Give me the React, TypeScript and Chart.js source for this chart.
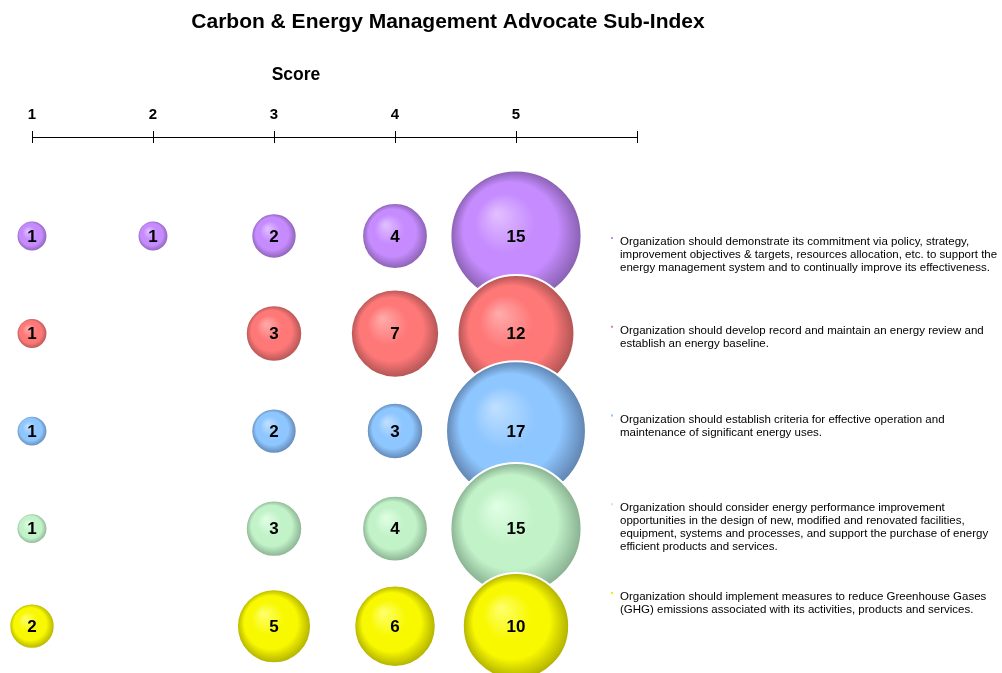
import React, { useEffect, useRef } from 'react';
import { Chart, registerables } from 'chart.js';

Chart.register(...registerables);

const TITLE = 'Carbon & Energy Management Advocate Sub-Index';
const AXIS_TITLE = 'Score';
const scoreTicks = [1, 2, 3, 4, 5];
const AXIS_MAX = 6;

// counts per score 1..5 (null = no respondents at that score)
const purpleCounts = [1, 1, 2, 4, 15];
const redCounts = [1, null, 3, 7, 12];
const blueCounts = [1, null, 2, 3, 17];
const greenCounts = [1, null, 3, 4, 15];
const yellowCounts = [2, null, 5, 6, 10];

const rowCounts = [purpleCounts, redCounts, blueCounts, greenCounts, yellowCounts];

const highlightColors = ['#e2c0ff', '#ffacac', '#c0e0ff', '#e0ffe4', '#ffff70'];
const baseColors = ['#c68cff', '#ff7878', '#8ec6ff', '#c2f2c8', '#f8f800'];
const edgeColors = ['#8860b0', '#b05454', '#6084b0', '#88b090', '#b0b000'];
const dotColors = ['#c68cff', '#ff7878', '#8ec6ff', '#c2f2c8', '#f0f000'];

const descriptions = [
  [
    'Organization should demonstrate its commitment via policy, strategy,',
    'improvement objectives & targets, resources allocation, etc. to support the',
    'energy management system and to continually improve its effectiveness.',
  ],
  [
    'Organization should develop record and maintain an energy review and',
    'establish an energy baseline.',
  ],
  [
    'Organization should establish criteria for effective operation and',
    'maintenance of significant energy uses.',
  ],
  [
    'Organization should consider energy performance improvement',
    'opportunities in the design of new, modified and renovated facilities,',
    'equipment, systems and processes, and support the purchase of energy',
    'efficient products and services.',
  ],
  [
    'Organization should implement measures to reduce Greenhouse Gases',
    '(GHG) emissions associated with its activities, products and services.',
  ],
];

const FONT = '"Liberation Sans", Arial, Helvetica, sans-serif';

function radiusFor(v: number): number {
  return 17.45 * Math.sqrt(v) - 2;
}

const textPlugin = {
  id: 'extraTexts',
  afterDatasetsDraw(chart: any) {
    const c = chart.ctx;
    c.save();
    c.fillStyle = '#000';
    c.font = `bold 17px ${FONT}`;
    c.textAlign = 'center';
    c.textBaseline = 'middle';
    chart.data.datasets.forEach((ds: any, i: number) => {
      const meta = chart.getDatasetMeta(i);
      meta.data.forEach((el: any, j: number) => {
        const raw = ds.data[j];
        c.fillText(String(raw.v), el.x, el.y + 1);
      });
    });
    c.restore();
  },
  afterDraw(chart: any) {
    const c = chart.ctx;
    const xs = chart.scales.x;
    c.save();
    c.fillStyle = '#000';
    c.textAlign = 'center';
    c.textBaseline = 'middle';
    c.font = `bold 21px ${FONT}`;
    c.fillText(TITLE, 448, 22);
    c.font = `bold 17.5px ${FONT}`;
    c.fillText(AXIS_TITLE, 296, 75);

    // lower half of the axis tick marks
    c.strokeStyle = '#000';
    c.lineWidth = 1;
    const axisY = chart.chartArea.top;
    xs.ticks.forEach((t: any) => {
      const px = Math.round(xs.getPixelForValue(t.value)) + 0.5;
      c.beginPath();
      c.moveTo(px, axisY);
      c.lineTo(px, axisY + 6);
      c.stroke();
    });

    // descriptions list
    c.textAlign = 'left';
    c.font = `11.5px ${FONT}`;
    const x0 = 620;
    const y0 = 242;
    const step = 88.75;
    const lh = 13;
    descriptions.forEach((lines, i) => {
      const yy = y0 + i * step;
      c.fillStyle = dotColors[i];
      c.fillRect(611, yy - 5, 2, 2);
      c.fillStyle = '#000';
      lines.forEach((ln, k) => c.fillText(ln, x0, yy + k * lh));
    });
    c.restore();
  },
};

export default function App() {
  const ref = useRef<HTMLCanvasElement | null>(null);

  useEffect(() => {
    if (!ref.current) return;
    const datasets = rowCounts.map((counts, row) => ({
      label: descriptions[row][0],
      order: rowCounts.length - row,
      data: counts
        .map((v, k) => (v == null ? null : { x: scoreTicks[k], y: row, v, r: radiusFor(v) }))
        .filter((d) => d !== null),
      borderColor: '#ffffff',
      borderWidth: 2,
      hoverBorderWidth: 2,
      clip: false as any,
      backgroundColor: (ctx: any) => {
        const chart = ctx.chart;
        const raw = ctx.raw;
        if (!chart.chartArea || !raw || ctx.type !== 'data') return baseColors[row];
        const x = chart.scales.x.getPixelForValue(raw.x);
        const y = chart.scales.y.getPixelForValue(raw.y);
        const r = raw.r;
        const g = chart.ctx.createRadialGradient(
          x - r * 0.3, y - r * 0.35, 0,
          x, y, r
        );
        g.addColorStop(0, highlightColors[row]);
        g.addColorStop(0.45, baseColors[row]);
        g.addColorStop(0.72, baseColors[row]);
        g.addColorStop(1, edgeColors[row]);
        return g;
      },
    }));

    const chart = new Chart(ref.current, {
      type: 'bubble',
      data: { datasets: datasets as any },
      plugins: [textPlugin],
      options: {
        animation: false,
        responsive: true,
        maintainAspectRatio: false,
        layout: { autoPadding: false, padding: { left: 32, right: 365, top: 99, bottom: 0 } },
        plugins: {
          legend: { display: false },
          tooltip: { enabled: false },
          title: { display: false },
        },
        scales: {
          x: {
            type: 'linear',
            position: 'top',
            min: scoreTicks[0],
            max: AXIS_MAX,
            offset: false,
            border: { display: true, color: '#000', width: 1 },
            grid: {
              display: true,
              drawOnChartArea: false,
              drawTicks: true,
              tickLength: 6,
              color: '#000',
            },
            ticks: {
              stepSize: 1,
              padding: 7,
              color: '#000',
              font: { family: FONT, size: 15, weight: 'bold' },
              callback: (v: any) => (scoreTicks.includes(Number(v)) ? String(v) : ''),
            },
          },
          y: {
            type: 'linear',
            display: false,
            reverse: true,
            min: -1.015,
            max: 4.48,
          },
        },
      },
    });
    return () => chart.destroy();
  }, []);

  return (
    <div style={{ position: 'fixed', left: 0, top: 0, width: 1002, height: 673, background: '#fff' }}>
      <canvas ref={ref} />
    </div>
  );
}
